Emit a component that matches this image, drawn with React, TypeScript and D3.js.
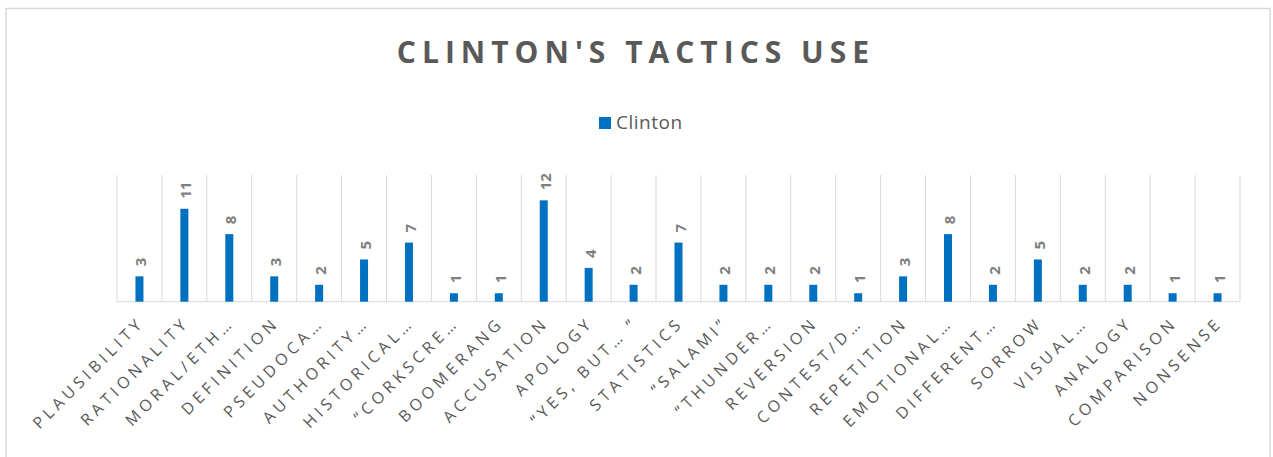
import React from "react";
import * as d3 from "d3";

const categories = [
  "PLAUSIBILITY", "RATIONALITY", "MORAL/ETH…", "DEFINITION", "PSEUDOCA…",
  "AUTHORITY…", "HISTORICAL…", "“CORKSCRE…", "BOOMERANG", "ACCUSATION",
  "APOLOGY", "“YES, BUT… ”", "STATISTICS", "“SALAMI”", "“THUNDER…",
  "REVERSION", "CONTEST/D…", "REPETITION", "EMOTIONAL…", "DIFFERENT…",
  "SORROW", "VISUAL…", "ANALOGY", "COMPARISON", "NONSENSE",
];
const clinton = [3, 11, 8, 3, 2, 5, 7, 1, 1, 12, 4, 2, 7, 2, 2, 2, 1, 3, 8, 2, 5, 2, 2, 1, 1];
const valueDomain = [0, 15];
const seriesName = "Clinton";
const title = "CLINTON'S TACTICS USE";

export default function App() {
  const W = 1273, H = 457;
  const left = 117, right = 1240, top = 175, bottom = 301.7;
  const x = d3.scaleBand<string>().domain(categories).range([left, right]).paddingInner(0).paddingOuter(0);
  const y = d3.scaleLinear().domain(valueDomain).range([bottom, top]);
  const bw = 8;
  const font = "'Open Sans', 'Noto Sans', sans-serif";
  const blue = "#0070C0";
  const gridLines = d3.range(categories.length + 1).map((i) => left + i * x.bandwidth());
  return (
    <svg width={W} height={H} style={{ position: "absolute", left: 0, top: 0, background: "#fff" }}>
      <rect x={6} y={8.5} width={1264} height={H} fill="#fff" stroke="#d9d9d9" strokeWidth={1.5} />
      <text x={636} y={63} textAnchor="middle" fontFamily={font} fontWeight={700} fontSize={30}
        letterSpacing={6} fill="#595959">{title}</text>
      <rect x={599} y={117} width={12} height={12} fill={blue} />
      <text x={616} y={129} fontFamily={font} fontSize={19} letterSpacing={0.5} fill="#595959">{seriesName}</text>
      {gridLines.map((gx, i) => (
        <line key={i} x1={gx} x2={gx} y1={top} y2={bottom} stroke="#d9d9d9" strokeWidth={1} />
      ))}
      <line x1={left} x2={right} y1={bottom} y2={bottom} stroke="#d9d9d9" strokeWidth={1} />
      {categories.map((c, i) => {
        const cx = (x(c) as number) + x.bandwidth() / 2;
        const v = clinton[i];
        const yt = y(v);
        return (
          <g key={c}>
            <rect x={cx - bw / 2} y={yt} width={bw} height={bottom - yt} fill={blue} />
            <text transform={`translate(${cx + 1},${yt - 10}) rotate(-90)`} dominantBaseline="central"
              fontFamily={font} fontWeight={700} fontSize={15} fill="#7f7f7f">{v}</text>
            <text transform={`translate(${cx + 6},${bottom + 22}) rotate(-45)`} textAnchor="end"
              fontFamily={font} fontSize={16} letterSpacing={4.3} fill="#595959">{c}</text>
          </g>
        );
      })}
    </svg>
  );
}
